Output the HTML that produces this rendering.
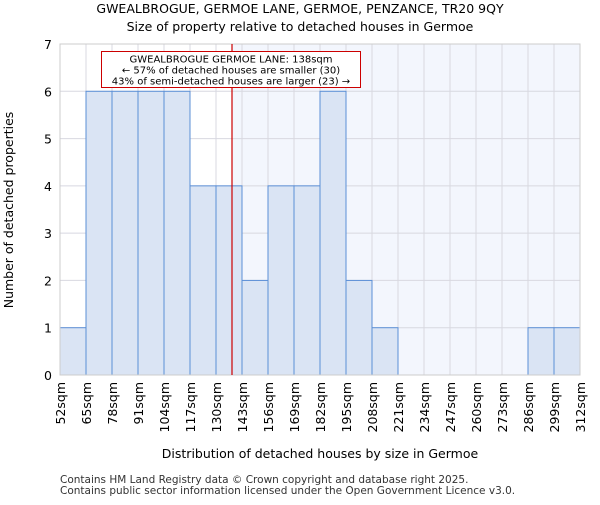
<!DOCTYPE html>
<html><head><meta charset="utf-8"><style>
body{margin:0;background:#fff;font-family:"Liberation Sans","DejaVu Sans",sans-serif}
svg text{font-family:"DejaVu Sans","Liberation Sans",sans-serif}
</style></head><body>
<svg id="c" width="600" height="500" xmlns="http://www.w3.org/2000/svg">
<text x="300" y="13" text-anchor="middle" font-size="12.5">GWEALBROGUE, GERMOE LANE, GERMOE, PENZANCE, TR20 9QY</text>
<text x="300" y="31" text-anchor="middle" font-size="12.5">Size of property relative to detached houses in Germoe</text>
<text x="320" y="458" text-anchor="middle" font-size="12.5">Distribution of detached houses by size in Germoe</text>
<text transform="translate(13,210) rotate(-90)" text-anchor="middle" font-size="12.5">Number of detached properties</text>
<text x="60" y="483" font-size="10.5" fill="#333">Contains HM Land Registry data © Crown copyright and database right 2025.</text>
<text x="60" y="494" font-size="10.5" fill="#333">Contains public sector information licensed under the Open Government Licence v3.0.</text>
<g id="plot"></g>
</svg>
<script>
const categories=["52sqm","65sqm","78sqm","91sqm","104sqm","117sqm","130sqm","143sqm","156sqm","169sqm","182sqm","195sqm","208sqm","221sqm","234sqm","247sqm","260sqm","273sqm","286sqm","299sqm","312sqm"];
const binStarts=[52,65,78,91,104,117,130,143,156,169,182,195,208,221,234,247,260,273,286,299];
const counts=[1,6,6,6,6,4,4,2,4,4,6,2,1,0,0,0,0,0,1,1];
const yTicks=[0,1,2,3,4,5,6,7];
const markerValue=138;
const binWidth=13;
const L=60,R=580,T=44,B=375,xmin=52,xmax=312,ymax=7;
const ns="http://www.w3.org/2000/svg";
const g=document.getElementById('plot');
const X=v=>L+(v-xmin)/(xmax-xmin)*(R-L);
const Y=v=>B-v/ymax*(B-T);
function mk(t,a,p){const e=document.createElementNS(ns,t);for(const k in a)e.setAttribute(k,a[k]);(p||g).appendChild(e);return e;}
const sh=mk('rect',{x:X(markerValue),y:T,width:R-X(markerValue),height:B-T,fill:'#f3f6fd'});


categories.forEach((c,i)=>{const v=xmin+i*binWidth;const l=mk('line',{x1:X(v),x2:X(v),y1:T,y2:B,stroke:'#d8d8e0','stroke-width':1});

});
yTicks.forEach(t=>{const l=mk('line',{x1:L,x2:R,y1:Y(t),y2:Y(t),stroke:'#d8d8e0','stroke-width':1});


const tx=mk('text',{x:L-8,y:Y(t)+5,'text-anchor':'end','font-size':12.5});tx.textContent=t;

});
binStarts.forEach((s,i)=>{if(counts[i]<=0)return;const r=mk('rect',{x:X(s),y:Y(counts[i]),width:X(s+binWidth)-X(s),height:Y(0)-Y(counts[i]),fill:'#dae4f4',stroke:'#5b8fd6','stroke-width':1});

});
categories.forEach((c,i)=>{const v=xmin+i*binWidth;const tx=mk('text',{transform:`translate(${X(v)+5},382) rotate(-90)`,'text-anchor':'end','font-size':12.5});tx.textContent=c;

});
const ax=mk('rect',{x:L,y:T,width:R-L,height:B-T,fill:'none',stroke:'#ccc'});


const ml=mk('line',{x1:X(markerValue),x2:X(markerValue),y1:T,y2:B,stroke:'#cc0000','stroke-width':1.2});


const ag=mk('g',{});


mk('rect',{x:101.5,y:51.5,width:259,height:36,fill:'#fff',stroke:'#cc0000','stroke-width':1},ag);
["GWEALBROGUE GERMOE LANE: 138sqm","← 57% of detached houses are smaller (30)","43% of semi-detached houses are larger (23) →"].forEach((s,i)=>{const t=mk('text',{x:231,y:62.5+i*11,'text-anchor':'middle','font-size':10},ag);t.textContent=s;});
</script>
</body></html>
